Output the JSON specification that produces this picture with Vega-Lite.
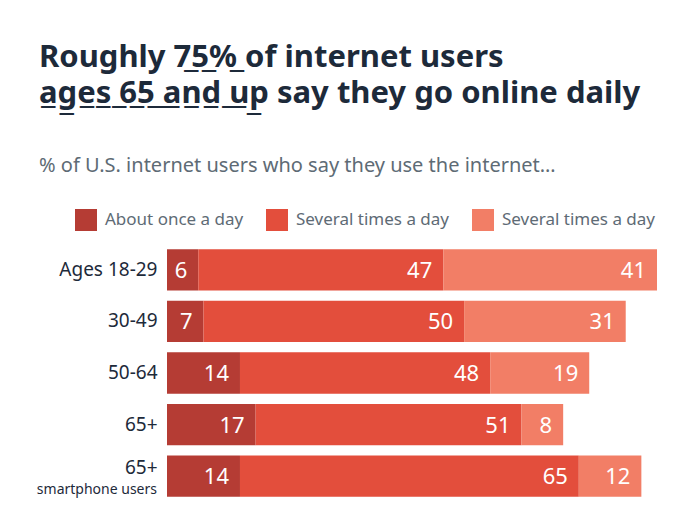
{
  "$schema": "https://vega.github.io/schema/vega-lite/v6.json",
  "autosize": {"type": "none"},
  "padding": {"left": 167, "top": 244, "right": 39, "bottom": 27},
  "width": 490,
  "height": 258,
  "background": "white",
  "config": {"view": {"stroke": null}},
  "title": {
    "text": ["Roughly 7\u03325\u0332%\u0332 of internet users", "a\u0332g\u0332e\u0332s\u0332 \u03326\u03325\u0332 \u0332a\u0332n\u0332d\u0332 \u0332u\u0332p\u0332 say they go online daily"],
    "subtitle": "% of U.S. internet users who say they use the internet\u2026",
    "anchor": "start",
    "frame": "group",
    "dx": -128,
    "font": "Noto Sans",
    "fontSize": 31,
    "fontWeight": "bold",
    "color": "#1d2a3a",
    "lineHeight": 36,
    "subtitleFont": "Noto Sans",
    "subtitleFontSize": 20,
    "subtitleFontWeight": "normal",
    "subtitleColor": "#5e6b75",
    "subtitlePadding": 46,
    "offset": 32
  },
  "datasets": {
    "bars": [
      {"group": "Ages 18-29", "segment": "once", "rank": 1, "value": 6},
      {"group": "Ages 18-29", "segment": "several", "rank": 2, "value": 47},
      {"group": "Ages 18-29", "segment": "several2", "rank": 3, "value": 41},
      {"group": "30-49", "segment": "once", "rank": 1, "value": 7},
      {"group": "30-49", "segment": "several", "rank": 2, "value": 50},
      {"group": "30-49", "segment": "several2", "rank": 3, "value": 31},
      {"group": "50-64", "segment": "once", "rank": 1, "value": 14},
      {"group": "50-64", "segment": "several", "rank": 2, "value": 48},
      {"group": "50-64", "segment": "several2", "rank": 3, "value": 19},
      {"group": "65+", "segment": "once", "rank": 1, "value": 17},
      {"group": "65+", "segment": "several", "rank": 2, "value": 51},
      {"group": "65+", "segment": "several2", "rank": 3, "value": 8},
      {"group": "65+ smartphone users", "segment": "once", "rank": 1, "value": 14},
      {"group": "65+ smartphone users", "segment": "several", "rank": 2, "value": 65},
      {"group": "65+ smartphone users", "segment": "several2", "rank": 3, "value": 12}
    ],
    "notes": [
      {"group": "65+ smartphone users", "note": "smartphone users"}
    ]
  },
  "encoding": {
    "y": {
      "field": "group",
      "type": "nominal",
      "sort": ["Ages 18-29", "30-49", "50-64", "65+", "65+ smartphone users"],
      "scale": {"paddingInner": 0.2, "paddingOuter": 0.1},
      "axis": {
        "title": null,
        "domain": false,
        "ticks": false,
        "labelPadding": 10,
        "labelFont": "Noto Sans",
        "labelFontSize": 19,
        "labelColor": "#1d2a3a",
        "labelExpr": "datum.value == '65+ smartphone users' ? '65+' : datum.value",
        "labelOffset": {"condition": {"test": "datum.value == '65+ smartphone users'", "value": -8}, "value": 0}
      }
    }
  },
  "layer": [
    {
      "data": {"name": "bars"},
      "mark": {"type": "bar"},
      "encoding": {
        "x": {"field": "value", "type": "quantitative", "stack": "zero", "scale": {"domain": [0, 94], "nice": false}, "axis": null},
        "order": {"field": "rank", "type": "quantitative"},
        "color": {
          "field": "segment",
          "type": "nominal",
          "scale": {"domain": ["once", "several", "several2"], "range": ["#b53c34", "#e34e3c", "#f27e66"]},
          "legend": {
            "title": null,
            "orient": "none",
            "direction": "horizontal",
            "legendX": -92,
            "legendY": -35,
            "symbolType": "square",
            "symbolSize": 484,
            "symbolStrokeWidth": 0,
            "labelFont": "Noto Sans",
            "labelFontSize": 17,
            "labelColor": "#5e6b75",
            "labelOffset": 8,
            "columnPadding": 22,
            "labelExpr": "datum.value == 'once' ? 'About once a day' : 'Several times a day'"
          }
        }
      }
    },
    {
      "data": {"name": "bars"},
      "mark": {"type": "text", "align": "right", "baseline": "middle", "dx": -11, "dy": 1, "font": "Noto Sans", "fontSize": 22, "color": "white"},
      "encoding": {
        "x": {"field": "value", "type": "quantitative", "stack": "zero"},
        "detail": {"field": "segment"},
        "order": {"field": "rank", "type": "quantitative"},
        "text": {"field": "value", "type": "quantitative"}
      }
    },
    {
      "data": {"name": "notes"},
      "mark": {"type": "text", "align": "right", "baseline": "middle", "dx": -10, "dy": 14, "font": "Noto Sans", "fontSize": 14, "color": "#1d2a3a"},
      "encoding": {
        "x": {"datum": 0, "type": "quantitative"},
        "text": {"field": "note"}
      }
    }
  ]
}
